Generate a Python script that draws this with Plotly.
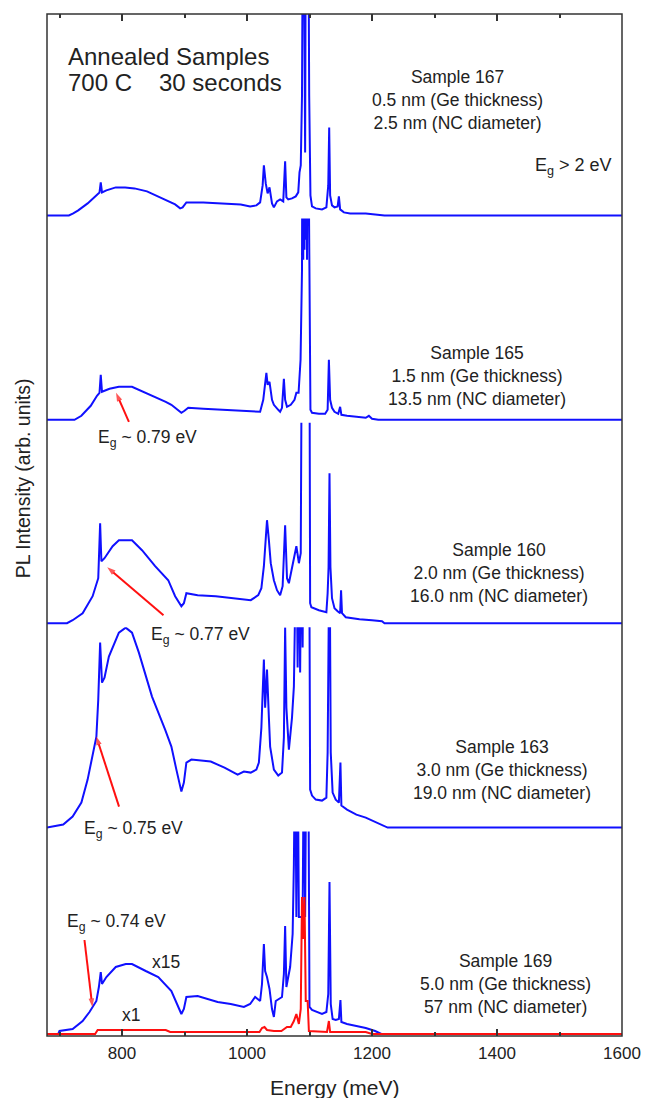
import plotly.graph_objects as go
from plotly.subplots import make_subplots

# ---------------- data (PL intensity, arb. units, per sample) ----------------
energy_167 = [680, 715, 722, 730, 745, 760, 764, 766, 768, 775, 790, 805, 820, 840, 858, 875, 885, 893, 897, 903,
              930, 960, 990, 1005, 1015, 1021, 1025, 1027, 1030, 1033, 1036, 1040, 1043, 1048, 1053, 1058, 1061,
              1063, 1066, 1072, 1078, 1082, 1084, 1086, 1088, 1090, 1093, 1094.5, 1096, 1097.5, 1099.5, 1101.5,
              1104, 1110, 1120, 1127, 1130, 1131.5, 1133, 1136, 1140, 1145, 1147, 1149, 1155, 1165, 1190, 1212,
              1220, 1600]
pl_167 = [0, 0, 2, 5, 12, 21, 23, 33, 23, 25, 28, 28, 27, 24, 19, 14, 11, 7, 8, 13,
          13, 12, 11, 9, 10, 13, 30, 50, 32, 22, 28, 12, 8, 14, 16, 14, 54,
          18, 16, 17, 19, 23, 43, 50, 120, 400, 63, 400, 250, 400, 120, 20,
          9, 7, 6, 8, 30, 88, 20, 10, 8, 9, 19, 6, 3, 2, 2, 1,
          0, 0]

energy_165 = [680, 724, 735, 750, 760, 764, 766, 768, 780, 795, 816, 835, 853, 870, 879, 890, 895, 900, 906, 930,
              960, 990, 1010, 1021, 1026, 1029, 1031, 1033, 1036, 1040, 1043, 1050, 1053, 1056, 1059, 1061, 1064,
              1070, 1076, 1079, 1082.5, 1085.7, 1088, 1089, 1090, 1091, 1092, 1093, 1094, 1095, 1096, 1097,
              1101.5, 1104, 1115, 1125, 1129, 1131, 1133, 1136, 1140, 1146, 1149, 1151, 1160, 1175, 1190, 1195,
              1200, 1210, 1600]
pl_165 = [0, 0, 4, 14, 24, 27, 45, 28, 31, 33, 33, 28, 23, 18, 15, 10, 7, 9, 12, 11,
          10, 9, 8, 8, 20, 40, 47, 35, 38, 20, 15, 10, 8, 12, 41, 20, 13,
          15, 20, 27, 27, 60, 150, 400, 160, 400, 170, 400, 180, 400, 160, 400,
          10, 7, 6, 6, 10, 60, 20, 12, 8, 6, 13, 5, 4, 3, 2, 4,
          1, 0, 0]

energy_160 = [680, 712, 721, 737, 753, 762, 765, 767, 772, 785, 795, 816, 832, 853, 874, 885, 895, 899, 903, 921,
              950, 974, 1006, 1018, 1023, 1027, 1032, 1035, 1038, 1043, 1048, 1053, 1057, 1061, 1064, 1067, 1075,
              1079, 1083, 1086, 1088.5, 1099.5, 1101, 1103, 1115, 1127, 1129, 1130.5, 1132, 1133.5, 1136, 1140,
              1145, 1149, 1150.5, 1152, 1158, 1180, 1200, 1216, 1220, 1600]
pl_160 = [0, 0, 3, 10, 27, 45, 100, 62, 65, 77, 83, 83, 73, 57, 43, 27, 17, 20, 30, 28,
          27, 25, 23, 28, 35, 57, 103, 83, 60, 43, 33, 28, 37, 98, 45, 40, 67,
          77, 60, 70, 400, 400, 20, 16, 13, 11, 30, 56, 150, 56, 25, 15,
          12, 10, 33, 10, 6, 4, 3, 2, 0, 0]

energy_163 = [680, 690, 706, 721, 735, 745, 752, 759, 762, 765, 768, 772, 779, 795, 806, 816, 827, 848, 869, 879,
              887, 895, 899, 903, 911, 942, 964, 985, 995, 1006, 1015, 1019, 1023, 1027, 1029, 1032, 1035, 1037,
              1043, 1050, 1056, 1059, 1061, 1063, 1067, 1072, 1075, 1077, 1079, 1081, 1083, 1085, 1087, 1089,
              1090, 1099.5, 1101, 1104, 1110, 1120, 1127, 1129, 1132, 1134, 1137, 1142, 1147, 1149.5, 1151,
              1160, 1175, 1190, 1205, 1220, 1225, 1600]
pl_163 = [0, 1, 3, 11, 25, 48, 70, 91, 128, 185, 145, 150, 171, 195, 200, 195, 175, 131, 98, 81,
          58, 36, 45, 65, 68, 66, 60, 53, 56, 55, 58, 65, 100, 168, 120, 158, 110, 81,
          58, 52, 55, 90, 200, 120, 78, 110, 141, 170, 300, 160, 300, 155, 300, 180,
          300, 300, 38, 32, 28, 27, 30, 75, 300, 75, 35, 28, 25, 65, 22,
          18, 13, 10, 6, 2, 0, 0]

energy_169_x15 = [680, 698, 700, 721, 737, 748, 759, 763, 766, 768, 775, 790, 806, 816, 838, 858, 879, 890, 895,
                  899, 903, 921, 953, 974, 995, 1005, 1013, 1021, 1024, 1027, 1029, 1032, 1036, 1040, 1043, 1046,
                  1056, 1059, 1061, 1063, 1069, 1073, 1075, 1077, 1079, 1081, 1083, 1086, 1089, 1091, 1093, 1095,
                  1098, 1100, 1104, 1111, 1120, 1127, 1130, 1132, 1134, 1137, 1142, 1147, 1149.5, 1151, 1160,
                  1175, 1190, 1205, 1215, 1600]
pl_169_x15 = [0, 0, 3, 5, 13, 22, 33, 47, 62, 50, 57, 67, 70, 70, 63, 57, 43, 27, 20,
              25, 37, 38, 32, 30, 27, 30, 37, 33, 50, 90, 63, 57, 45, 25, 17, 33,
              37, 60, 108, 47, 67, 100, 170, 300, 117, 300, 117, 117, 117, 300, 117, 300,
              300, 27, 24, 22, 20, 22, 40, 152, 30, 15, 14, 15, 34, 12, 10,
              8, 6, 3, 0, 0]

energy_169_x1 = [680, 757, 761, 870, 877, 1020, 1024, 1028, 1032, 1043, 1055, 1059, 1064, 1070, 1075, 1079, 1083,
                 1086, 1088, 1090, 1092, 1094, 1097, 1099, 1128, 1131, 1133, 1190, 1200, 1600]
pl_169_x1 = [0, 0, 4, 4, 2, 2, 6, 7, 4, 3, 3, 5, 7, 7, 13, 20, 10,
             25, 137, 95, 137, 33, 33, 3, 2, 13, 2, 2, 0, 0]

panel_samples = ["167", "165", "160", "163", "169"]
tick_values = [800, 1000, 1200, 1400, 1600]

sample_labels = {
    "167": ["Sample 167", "0.5 nm (Ge thickness)", "2.5 nm (NC diameter)"],
    "165": ["Sample 165", "1.5 nm (Ge thickness)", "13.5 nm (NC diameter)"],
    "160": ["Sample 160", "2.0 nm (Ge thickness)", "16.0 nm (NC diameter)"],
    "163": ["Sample 163", "3.0 nm (Ge thickness)", "19.0 nm (NC diameter)"],
    "169": ["Sample 169", "5.0 nm (Ge thickness)", "57 nm (NC diameter)"],
}
gap_labels = ["0.79", "0.77", "0.75", "0.74"]
gap_tips_energy = [790.5, 776.3, 758.9, 752.6]
gap_tips_pl = [27, 56, 91, 27]

# ---------------- figure ----------------
assert len(energy_167) == len(pl_167)
assert len(energy_165) == len(pl_165)
assert len(energy_160) == len(pl_160)
assert len(energy_163) == len(pl_163)
assert len(energy_169_x15) == len(pl_169_x15)
assert len(energy_169_x1) == len(pl_169_x1)

W, H = 653, 1098
ML, MR, MT, MB = 47, 24, 14, 62
PW, PH = W - ML - MR, H - MT - MB
X_RANGE = [680, 1600]
MEV_PER_PX = (X_RANGE[1] - X_RANGE[0]) / PW
FONT = "Liberation Sans, Arial, Helvetica, sans-serif"
TXT = "#222222"
BLUE = "#1010ff"
RED = "#ff1010"


def px(xp):
    return (xp - ML) / PW


def py(yp):
    return (H - MB - yp) / PH


fig = make_subplots(rows=5, cols=1, shared_xaxes=True, vertical_spacing=0)

series = [(energy_167, pl_167), (energy_165, pl_165), (energy_160, pl_160),
          (energy_163, pl_163), (energy_169_x15, pl_169_x15)]
for r, (e, v) in enumerate(series, start=1):
    fig.add_trace(go.Scatter(x=e, y=v, mode="lines", line=dict(color=BLUE, width=2),
                             hoverinfo="skip", showlegend=False), row=r, col=1)
fig.add_trace(go.Scatter(x=energy_169_x1, y=pl_169_x1, mode="lines", line=dict(color=RED, width=2),
                         hoverinfo="skip", showlegend=False), row=5, col=1)

# red arrows pointing to the band-gap onset (tip on the spectrum of each panel)
arrow_rows = [2, 3, 4, 5]
arrow_tail_offsets_px = [(13, 29), (57, 48), (23, 70), (-8, -67)]
for r, ex, ey, (dx, dy) in zip(arrow_rows, gap_tips_energy, gap_tips_pl, arrow_tail_offsets_px):
    tail_e = ex + dx * MEV_PER_PX
    tail_y = ey - dy
    fig.add_trace(go.Scatter(x=[tail_e, ex], y=[tail_y, ey], mode="lines+markers",
                             line=dict(color=RED, width=2),
                             marker=dict(symbol="arrow", size=[0, 9], angleref="previous", color=RED,
                                         line=dict(width=0)),
                             hoverinfo="skip", showlegend=False), row=r, col=1)

y_ranges = [[-3, 201.4], [-3, 201.4], [-4, 200.4], [-4, 200.4], [-2, 202.4]]
for r in range(1, 6):
    fig.update_yaxes(range=y_ranges[r - 1], visible=False, fixedrange=True, row=r, col=1)
    fig.update_xaxes(range=X_RANGE, showgrid=False, zeroline=False, showline=False,
                     ticks="", showticklabels=False, row=r, col=1)

tick_style = dict(ticks="inside", ticklen=7, tickwidth=1.5, tickcolor="#333333",
                  tickvals=tick_values,
                  minor=dict(ticks="inside", ticklen=4, tickwidth=1.5, tickcolor="#333333",
                             dtick=100, tick0=0))
fig.update_xaxes(**tick_style, showticklabels=True, ticklabelstandoff=5,
                 tickfont=dict(family=FONT, size=17, color=TXT), row=5, col=1)
fig.update_xaxes(**tick_style, side="top", row=1, col=1)

fig.add_shape(type="rect", xref="paper", yref="paper", x0=0, x1=1, y0=0, y1=1,
              line=dict(color="#333333", width=1.5), layer="above")

ann = []


def text(t, xp, yp, size, xanchor="center", yanchor="middle", angle=0):
    ann.append(dict(text=t, x=px(xp), y=py(yp), xref="paper", yref="paper", showarrow=False,
                    xanchor=xanchor, yanchor=yanchor, textangle=angle,
                    font=dict(family=FONT, size=size, color=TXT)))


text("Annealed Samples", 66, 56, 24, xanchor="left")
text("700 C", 66, 83, 24, xanchor="left")
text("30 seconds", 158, 83, 24, xanchor="left")

block_pos = {"167": (463, 100), "165": (482, 376), "160": (505, 573), "163": (508, 770), "169": (511, 984)}
for s in panel_samples:
    xp, yp = block_pos[s]
    text("<br>".join(sample_labels[s]), xp, yp, 17.5)

text("E<sub>g</sub> > 2 eV", 539, 167, 18, xanchor="left")

gap_text_pos = [(97, 439), (150, 635), (82, 829), (65, 922)]
for lab, (xp, yp) in zip(gap_labels, gap_text_pos):
    text("E<sub>g</sub> ~ " + lab + " eV", xp, yp, 17.5, xanchor="left")

text("x15", 167, 962, 17.5)
text("x1", 132, 1015, 17.5)

text("Energy (meV)", ML + PW / 2, 1088, 21)
text("PL Intensity (arb. units)", 23, 478, 19.5, angle=-90)

fig.update_layout(width=W, height=H, margin=dict(l=ML, r=MR, t=MT, b=MB),
                  paper_bgcolor="white", plot_bgcolor="white",
                  font=dict(family=FONT, color=TXT), annotations=ann, showlegend=False)

fig.write_html("out.html")
